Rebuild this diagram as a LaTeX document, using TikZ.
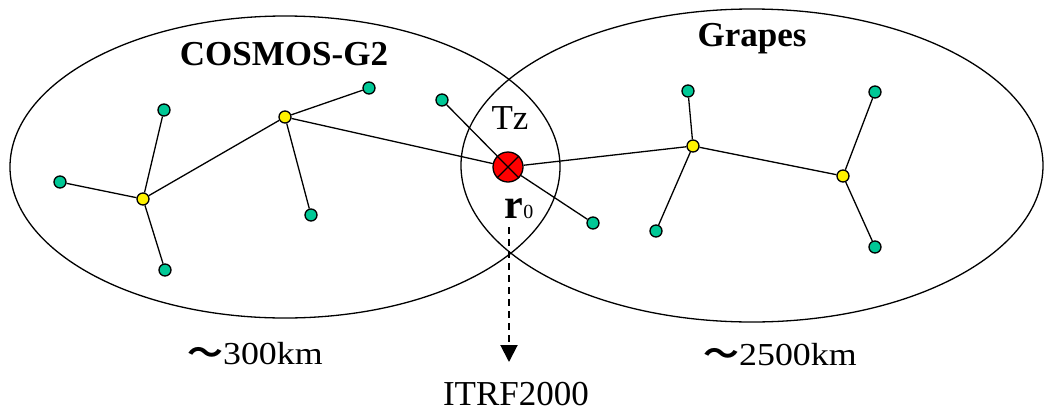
\documentclass[tikz,border=0pt]{standalone}
\usepackage{fontspec}
\setmainfont{Liberation Serif}
\newfontfamily\cjk{Noto Sans CJK SC}[BoldFont={Noto Sans CJK SC Bold}]
\usepackage{tikz}
\usetikzlibrary{arrows.meta}

\definecolor{sitegreen}{RGB}{0,200,150}

\begin{document}
\begin{tikzpicture}[x=1pt, y=-1pt, line width=1.3pt,
    site/.style={circle, draw, fill=sitegreen, inner sep=0pt, minimum size=12pt},
    hub/.style={circle, draw, fill=yellow, inner sep=0pt, minimum size=12pt},
    origin/.style={circle, draw, fill=red, inner sep=0pt, minimum size=30pt},
    label/.style={inner sep=0pt, anchor=base, font=\fontsize{35}{40}\selectfont},
    dist/.style={inner sep=0pt, anchor=base, font=\fontsize{32}{36}\selectfont}]

  \useasboundingbox (0,0) rectangle (1045,413);

  % the two networks
  \draw (285,167) ellipse [x radius=275pt, y radius=151pt];
  \draw (752,165.5) ellipse [x radius=291pt, y radius=156.5pt];

  \node[label, font=\fontsize{35}{40}\selectfont\bfseries] (cosmos) at (284,65) {COSMOS-G2};
  \node[label, font=\fontsize{35}{40}\selectfont\bfseries] (grapes) at (752,46) {Grapes};

  % tie point
  \node[origin] (r0) at (508,167) {};
  \draw (r0.45) -- (r0.225) (r0.135) -- (r0.-45);
  \node[label] (tz) at (510,129) {Tz};
  \node[label, anchor=base west] (rlab) at (504,218)
    {{\fontsize{42}{46}\selectfont\bfseries r}{\fontsize{20}{24}\selectfont 0}};

  % COSMOS-G2 stations
  \node[hub]  (h1) at (143,199) {};
  \node[hub]  (h2) at (285,117) {};
  \node[site] (a1) at (60,182)  {};
  \node[site] (a2) at (164,110) {};
  \node[site] (a3) at (165,270) {};
  \node[site] (a4) at (369,88)  {};
  \node[site] (a5) at (311,215) {};
  \node[site] (a6) at (442,100) {};
  \node[site] (a7) at (593,223) {};

  % Grapes stations
  \node[hub]  (h3) at (693,146) {};
  \node[hub]  (h4) at (843,176) {};
  \node[site] (b1) at (688,91)  {};
  \node[site] (b2) at (656,231) {};
  \node[site] (b3) at (875,92)  {};
  \node[site] (b4) at (875,247) {};

  \draw (h1) -- (a1)  (h1) -- (a2)  (h1) -- (a3)  (h1) -- (h2);
  \draw (h2) -- (a4)  (h2) -- (a5)  (h2) -- (r0);
  \draw (a6) -- (r0) -- (a7);
  \draw (r0) -- (h3)  (h3) -- (b1)  (h3) -- (b2)  (h3) -- (h4);
  \draw (h4) -- (b3)  (h4) -- (b4);

  % link to the global frame
  \coordinate (tail) at (509,227);
  \coordinate (head) at (509,362);
  \draw[-{Triangle[length=17pt, width=17pt]}, line width=2pt, dash pattern=on 7pt off 5pt]
    (tail) -- (head);
  \node[label] (itrf) at (516,405) {ITRF2000};

  \node[dist] (d1) at (255,364) {\scalebox{1.12}[1]{{\cjk\bfseries ～}300km}};
  \node[dist] (d2) at (780,365) {\scalebox{1.12}[1]{{\cjk\bfseries ～}2500km}};

\end{tikzpicture}
\end{document}
